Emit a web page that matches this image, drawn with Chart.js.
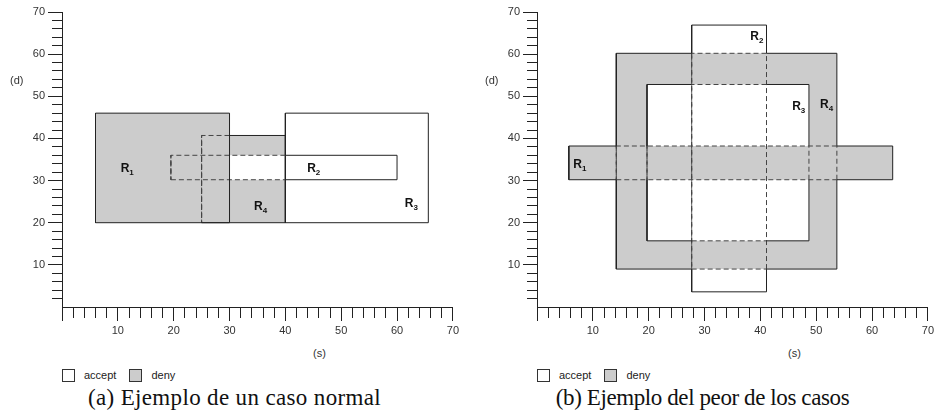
<!DOCTYPE html>
<html>
<head>
<meta charset="utf-8">
<script src="https://cdn.jsdelivr.net/npm/chart.js@4.4.0/dist/chart.umd.min.js"></script>
<style>
  body { margin: 0; width: 937px; height: 412px; overflow: hidden; background: #fff; position: relative;
         font-family: "Liberation Sans", Arial, sans-serif; color: #222; }
  canvas { position: absolute; top: 0; }
  .lab { position: absolute; font-size: 11px; line-height: 11px; color: #333; }
  .legend { position: absolute; top: 369px; font-size: 11px; line-height: 13px; display: flex; align-items: center; color: #222; }
  .sw { display: inline-block; width: 11px; height: 11px; border: 1px solid #333; margin-right: 9px; }
  .caption { position: absolute; top: 386px; width: 469px; text-align: center; white-space: nowrap;
             font-family: "Liberation Serif", "Times New Roman", serif; font-size: 23px; line-height: 23px; color: #111; }
</style>
</head>
<body>
<canvas id="chartA" width="462" height="345" style="left:0px"></canvas>
<canvas id="chartB" width="462" height="345" style="left:475px"></canvas>

<div class="lab" style="left:10px;top:75px">(d)</div>
<div class="lab" style="left:485px;top:75px">(d)</div>
<div class="lab" style="left:313px;top:348px">(s)</div>
<div class="lab" style="left:788px;top:348px">(s)</div>

<div class="legend" style="left:62px"><span class="sw" style="background:#fff"></span>accept<span class="sw" style="background:#cccccc;margin-left:13px"></span>deny</div>
<div class="legend" style="left:537px"><span class="sw" style="background:#fff"></span>accept<span class="sw" style="background:#cccccc;margin-left:13px"></span>deny</div>

<div class="caption" style="left:0px;letter-spacing:0.35px">(a) Ejemplo de un caso normal</div>
<div class="caption" style="left:468px;letter-spacing:-0.4px">(b) Ejemplo del peor de los casos</div>

<script>
// (a) Ejemplo de un caso normal
const namesA = ['R1', 'R2', 'R3', 'R4'];
const actionA = ['deny', 'accept', 'accept', 'deny'];
const sFromA = [6, 19.5, 40, 25];
const sToA = [30, 60, 65.6, 40];
const dFromA = [20, 30.2, 20, 20];
const dToA = [46, 36, 46, 40.7];
const hiddenByA = [[], ['R1', 'R4'], [], ['R1']];   // edges inside these rules are dashed
const stackA = ['R1', 'R2', 'R4', 'R3'];             // top to bottom
const labelSA = [10.5, 43.9, 61.4, 34.4];
const labelDA = [32.1, 32.1, 23.7, 23.0];

// (b) Ejemplo del peor de los casos
const namesB = ['R1', 'R2', 'R3', 'R4'];
const actionB = ['deny', 'accept', 'accept', 'deny'];
const sFromB = [5.7, 27.7, 19.7, 14.2];
const sToB = [63.7, 41.1, 48.7, 53.7];
const dFromB = [30.2, 3.6, 15.7, 9];
const dToB = [38.2, 66.9, 52.8, 60.2];
const hiddenByB = [['R4'], ['R4', 'R1'], ['R1', 'R2'], ['R1', 'R2']];
const stackB = ['R1', 'R3', 'R4', 'R2'];
const labelSB = [6.5, 38.2, 45.7, 50.7];
const labelDB = [33.1, 63.3, 46.8, 47.2];

const axisMax = 70;
const minorStep = 2;
const majorStep = 10;

const inside = (p, c, s, d) => s > p.sFrom[c] && s < p.sTo[c] && d > p.dFrom[c] && d < p.dTo[c];

// closed outline of rule i, cut where other rules start/end so hidden parts can be dashed
function outline(p, i) {
  const covers = p.hiddenBy[i].map(n => p.names.indexOf(n));
  const x0 = p.sFrom[i], x1 = p.sTo[i], y0 = p.dFrom[i], y1 = p.dTo[i];
  const corners = [[x0, y0], [x1, y0], [x1, y1], [x0, y1], [x0, y0]];
  const pts = [], dashed = [];
  for (let k = 0; k < 4; k++) {
    const [ax, ay] = corners[k];
    const [bx, by] = corners[k + 1];
    const horiz = ay === by;
    const start = horiz ? ax : ay, end = horiz ? bx : by;
    const lo = Math.min(start, end), hi = Math.max(start, end);
    const cuts = [];
    covers.forEach(c => {
      const vals = horiz ? [p.sFrom[c], p.sTo[c]] : [p.dFrom[c], p.dTo[c]];
      vals.forEach(v => { if (v > lo && v < hi) cuts.push(v); });
    });
    cuts.sort((a, b) => start < end ? a - b : b - a);
    const stops = [start, ...cuts, end];
    for (let j = 0; j < stops.length - 1; j++) {
      const m = (stops[j] + stops[j + 1]) / 2;
      pts.push(horiz ? {x: stops[j], y: ay} : {x: ax, y: stops[j]});
      dashed.push(covers.some(c => horiz ? inside(p, c, m, ay) : inside(p, c, ax, m)));
    }
  }
  pts.push({x: x0, y: y0});
  return {pts, dashed};
}

function buildDatasets(p) {
  const lines = [], fills = [];
  p.stack.forEach(name => {
    const i = p.names.indexOf(name);
    const {pts, dashed} = outline(p, i);
    lines.push({
      label: name + ' borde',
      data: pts,
      showLine: true,
      fill: false,
      borderColor: '#222',
      borderWidth: 1,
      pointRadius: 0,
      tension: 0,
      segment: {
        borderDash: ctx => dashed[ctx.p0DataIndex] ? [5, 3] : [],
        borderColor: ctx => dashed[ctx.p0DataIndex] ? '#444' : '#222'
      }
    });
    fills.push({
      label: name,
      data: [
        {x: p.sFrom[i], y: p.dFrom[i]}, {x: p.sTo[i], y: p.dFrom[i]},
        {x: p.sTo[i], y: p.dTo[i]}, {x: p.sFrom[i], y: p.dTo[i]},
        {x: p.sFrom[i], y: p.dFrom[i]}
      ],
      showLine: true,
      fill: 'shape',
      backgroundColor: p.action[i] === 'deny' ? '#cccccc' : '#ffffff',
      borderWidth: 0,
      pointRadius: 0,
      tension: 0
    });
  });
  // outlines first so they end up above every fill
  return lines.concat(fills);
}

const ruleLabels = {
  id: 'ruleLabels',
  afterDatasetsDraw(chart, args, opts) {
    const {ctx, scales: {x, y}} = chart;
    ctx.save();
    ctx.fillStyle = '#111';
    ctx.textBaseline = 'alphabetic';
    opts.names.forEach((n, i) => {
      const px = x.getPixelForValue(opts.s[i]);
      const py = y.getPixelForValue(opts.d[i]);
      ctx.font = 'bold 12px "Liberation Sans"';
      ctx.fillText('R', px, py);
      const w = ctx.measureText('R').width;
      ctx.font = 'bold 8px "Liberation Sans"';
      ctx.fillText(n.slice(1), px + w, py + 3);
    });
    ctx.restore();
  }
};

const tickFont = {family: '"Liberation Sans", Arial', size: 11};
const isMajor = v => v % majorStep === 0;

function makeChart(id, p) {
  return new Chart(document.getElementById(id), {
    type: 'scatter',
    data: {datasets: buildDatasets(p)},
    plugins: [ruleLabels],
    options: {
      responsive: false,
      animation: false,
      events: [],
      layout: {padding: {top: 12, right: 7, left: 0, bottom: 0}},
      scales: {
        x: {
          type: 'linear', min: 0, max: axisMax,
          afterFit: s => { s.height = 38; },
          ticks: {
            stepSize: minorStep, autoSkip: false, maxRotation: 0, padding: 3,
            color: '#333', font: tickFont,
            callback: v => (isMajor(v) && v > 0) ? v : ''
          },
          grid: {
            drawOnChartArea: false, tickLength: 14, tickColor: '#222',
            tickBorderDash: c => isMajor(c.tick.value) ? [] : [10, 30]
          },
          border: {color: '#222', width: 1}
        },
        y: {
          type: 'linear', min: 0, max: axisMax,
          afterFit: s => { s.width = 62; },
          ticks: {
            stepSize: minorStep, autoSkip: false, padding: 3,
            color: '#333', font: tickFont,
            callback: v => (isMajor(v) && v > 0) ? v : ''
          },
          grid: {
            drawOnChartArea: false, tickLength: 14,
            tickColor: c => c.tick.value === 0 ? 'rgba(0,0,0,0)' : '#222',
            tickBorderDash: c => isMajor(c.tick.value) ? [] : [0, 4, 10, 30]
          },
          border: {color: '#222', width: 1}
        }
      },
      plugins: {
        legend: {display: false},
        tooltip: {enabled: false},
        filler: {drawTime: 'beforeDatasetsDraw'},
        ruleLabels: {names: p.names, s: p.labelS, d: p.labelD}
      }
    }
  });
}

makeChart('chartA', {
  names: namesA, action: actionA, sFrom: sFromA, sTo: sToA, dFrom: dFromA, dTo: dToA,
  hiddenBy: hiddenByA, stack: stackA, labelS: labelSA, labelD: labelDA
});
makeChart('chartB', {
  names: namesB, action: actionB, sFrom: sFromB, sTo: sToB, dFrom: dFromB, dTo: dToB,
  hiddenBy: hiddenByB, stack: stackB, labelS: labelSB, labelD: labelDB
});
</script>
</body>
</html>
